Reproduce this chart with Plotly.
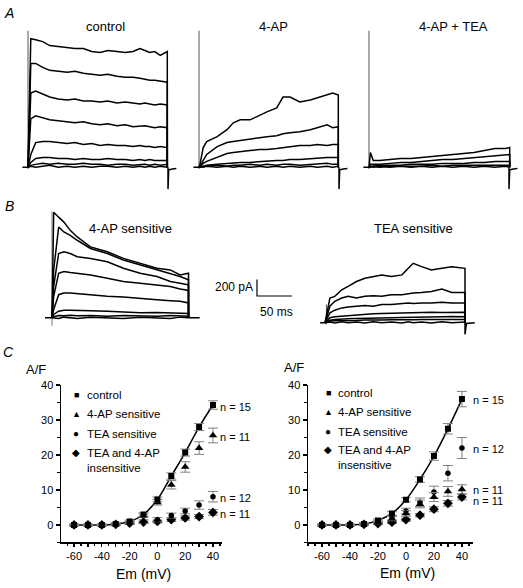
import plotly.graph_objects as go

# ---------------- DATA ----------------
# Panel A: current traces (time in ms, current in pA)
ctl_t = [0, 4, 11, 21, 31, 43, 56, 67, 79, 91, 103, 114, 127, 139, 150, 160, 167, 174, 181, 189, 199]
ctl_1 = [0, 1560, 1548, 1524, 1476, 1464, 1452, 1440, 1440, 1404, 1392, 1416, 1404, 1392, 1404, 1440, 1416, 1392, 1404, 1356, 1404]
ctl_2 = [0, 1260, 1260, 1212, 1176, 1164, 1152, 1164, 1140, 1128, 1116, 1128, 1104, 1092, 1092, 1080, 1068, 1056, 1056, 1044, 1032]
ctl_3 = [0, 900, 924, 888, 852, 828, 816, 828, 804, 804, 792, 804, 780, 792, 780, 768, 780, 768, 756, 768, 756]
ctl_4 = [0, 588, 624, 600, 576, 564, 552, 540, 552, 528, 516, 528, 504, 516, 492, 504, 504, 492, 480, 492, 480]
ctl_5 = [0, 156, 300, 312, 312, 300, 288, 300, 276, 288, 264, 276, 264, 264, 252, 264, 252, 252, 240, 252, 240]
ctl_6 = [0, 60, 108, 120, 120, 108, 108, 96, 108, 96, 96, 108, 96, 96, 84, 96, 84, 96, 84, 84, 84]
ctl_7 = [0, 24, 36, 48, 36, 48, 36, 36, 48, 36, 36, 24, 36, 36, 24, 36, 36, 24, 36, 24, 36]
ctl_8 = [0, 12, 0, 12, 24, 0, 12, 0, 12, 0, 12, 12, 0, 12, 0, 12, 0, 12, 0, 12, 0]

ap_t = [0, 1.4, 6, 11, 26, 40, 49, 59, 73, 87, 97, 111, 120, 130, 144, 159, 169, 183, 191, 199]
ap_1 = [0, 36, 240, 312, 372, 456, 540, 576, 576, 636, 672, 720, 852, 852, 792, 816, 840, 876, 900, 876]
ap_2 = [0, 12, 84, 156, 252, 300, 312, 324, 348, 360, 372, 384, 408, 420, 432, 456, 480, 516, 480, 492]
ap_3 = [0, 12, 48, 72, 120, 168, 180, 192, 204, 216, 216, 228, 240, 252, 264, 264, 276, 264, 276, 276]
ap_4 = [0, 0, 12, 24, 36, 48, 48, 60, 60, 72, 72, 84, 84, 96, 96, 108, 108, 120, 120, 120]
ap_5 = [0, 0, 12, 12, 24, 12, 24, 24, 36, 24, 36, 24, 36, 36, 24, 36, 36, 48, 36, 36]
ap_6 = [0, 12, 0, 12, 0, 12, 0, 12, 0, 12, 0, 12, 0, 12, 0, 12, 0, 12, 0, 12]

tea_t = [0, 2, 6, 15, 30, 45, 60, 75, 90, 105, 120, 135, 150, 165, 180, 195, 201]
tea_1 = [0, 180, 84, 84, 96, 108, 108, 120, 132, 144, 156, 168, 180, 204, 228, 228, 240]
tea_2 = [0, 36, 36, 36, 48, 60, 60, 72, 84, 96, 96, 108, 120, 132, 144, 156, 156]
tea_3 = [0, 12, 12, 24, 24, 24, 36, 36, 36, 48, 48, 48, 60, 60, 72, 72, 72]
tea_4 = [0, 0, 12, 0, 12, 12, 12, 12, 24, 12, 24, 24, 24, 24, 24, 24, 24]
tea_5 = [0, 12, 0, 12, 0, 12, 0, 12, 0, 12, 0, 12, 0, 12, 0, 12, 0]

# holding baseline + tail currents (pre-pulse, None gap, post-pulse)
a_base_t = [-8, 0, None, 200, 200, 201, 206, 212]
a_base_i = [0, 0, None, 0, -264, -30, -20, -15]
a_cap_t = [0, 0]
a_cap_i = [-20, 1656]

# Panel B: difference currents
bl_t = [0, 2.4, 9.5, 17, 26, 36, 55, 79, 102, 126, 150, 169, 183, 195]
bl_1 = [0, 1280, 1220, 1160, 1060, 980, 860, 800, 720, 660, 600, 580, 520, 540]
bl_2 = [0, 580, 1100, 1040, 1000, 940, 840, 780, 700, 640, 580, 540, 500, 460]
bl_3 = [0, 380, 780, 800, 780, 740, 720, 680, 600, 540, 500, 440, 420, 400]
bl_4 = [0, 260, 540, 560, 548, 540, 520, 480, 440, 420, 400, 380, 348, 332]
bl_5 = [0, 100, 280, 300, 300, 292, 280, 260, 252, 240, 220, 208, 200, 180]
bl_6 = [0, 40, 80, 92, 92, 88, 84, 80, 72, 60, 64, 56, 52, 52]
bl_7 = [0, 12, 28, 24, 32, 24, 28, 20, 28, 24, 20, 28, 24, 20]
bl_8 = [0, 0, -8, 8, 0, -8, 8, 0, -8, 8, 0, -8, 8, 0]
bl_base_t = [-10, 0, None, 195, 211]
bl_base_i = [0, 0, None, 0, 0]
bl_cap_t = [0, 0]
bl_cap_i = [-96, 1290]

br_t = [0, 7, 14, 24, 33, 45, 57, 69, 81, 95, 110, 119, 126, 138, 152, 167, 181, 200]
br_1 = [0, 300, 320, 400, 440, 500, 540, 560, 580, 560, 580, 660, 720, 680, 640, 660, 680, 660]
br_2 = [0, 200, 260, 300, 320, 300, 320, 328, 320, 340, 340, 352, 360, 368, 380, 408, 368, 368]
br_3 = [0, 120, 152, 180, 192, 200, 208, 200, 220, 220, 232, 240, 232, 240, 240, 248, 240, 240]
br_4 = [0, 60, 72, 80, 88, 96, 100, 108, 112, 116, 120, 124, 120, 128, 128, 124, 128, 128]
br_5 = [0, 30, 40, 40, 48, 52, 52, 56, 60, 60, 64, 64, 68, 68, 72, 72, 76, 72]
br_6 = [0, 20, 24, 28, 24, 28, 32, 28, 32, 36, 32, 36, 36, 40, 36, 40, 40, 40]
br_7 = [0, 8, -4, 12, 0, 8, -4, 12, 0, 8, -4, 12, 0, 8, -4, 12, 0, 8]
br_base_t = [-7, 0, None, 200, 200, 202, 214]
br_base_i = [0, 0, None, 0, -140, -10, 0]
br_cap_t = [2, 2]
br_cap_i = [-20, 220]

# scale bar (ms, pA)
bar_t = [0, 0, 50]
bar_i = [200, 0, 0]

# Panel C: current density (A/F) vs Em (mV)
em = [-60, -50, -40, -30, -20, -10, 0, 10, 20, 30, 40]

L_control = [0, 0, 0, 0.3, 1.0, 3.0, 7.3, 14.0, 20.7, 28.0, 34.3]
L_control_err = [0.2, 0.2, 0.2, 0.3, 0.4, 0.5, 0.7, 0.9, 1.0, 1.0, 1.2]
L_ap = [0, 0, 0, 0.2, 0.7, 2.7, 6.5, 11.5, 16.6, 22.0, 25.6]
L_ap_err = [0.2, 0.2, 0.2, 0.3, 0.3, 0.4, 0.8, 1.2, 1.5, 1.8, 2.1]
L_tea = [0, 0, 0, 0.2, 0.6, 1.0, 1.5, 2.7, 4.0, 5.7, 8.1]
L_tea_err = [0.2, 0.2, 0.2, 0.3, 0.4, 0.5, 0.6, 0.7, 0.8, 1.2, 1.5]
L_ins = [0, 0, 0, 0.2, 0.5, 0.8, 1.0, 1.5, 2.0, 2.4, 3.6]
L_ins_err = [0.2, 0.2, 0.2, 0.2, 0.3, 0.3, 0.4, 0.5, 0.6, 0.6, 0.8]

R_control = [0, 0, 0, 0.3, 1.3, 3.3, 7.2, 13.0, 19.7, 27.5, 36.0]
R_control_err = [0.2, 0.2, 0.2, 0.3, 0.4, 0.5, 0.6, 0.8, 1.2, 1.5, 2.2]
R_ap = [0, 0, 0, 0.2, 0.7, 1.8, 3.3, 6.0, 8.0, 9.6, 10.2]
R_ap_err = [0.2, 0.2, 0.2, 0.3, 0.4, 0.6, 0.8, 1.1, 1.3, 1.4, 1.3]
R_tea = [0, 0, 0, 0.3, 1.0, 2.0, 4.0, 6.5, 9.4, 14.8, 22.0]
R_tea_err = [0.2, 0.2, 0.2, 0.3, 0.4, 0.6, 0.8, 1.2, 1.7, 2.2, 3.0]
R_ins = [0, 0, 0, 0.2, 0.4, 0.8, 1.5, 2.8, 4.5, 6.2, 8.0]
R_ins_err = [0.2, 0.2, 0.2, 0.2, 0.3, 0.4, 0.4, 0.5, 0.7, 0.8, 0.8]

series_names = ["control", "4-AP sensitive", "TEA sensitive", "TEA and 4-AP<br>insensitive"]
series_symbols = ["square", "triangle-up", "circle", "diamond"]
legend_glyphs = ["\u25A0", "\u25B2", "\u25CF", "\u25C6"]
left_n = ["n = 15", "n = 11", "n = 12", "n = 11"]
right_n = ["n = 15", "n = 12", "n = 11", "n = 11"]

x_ticks = [-60, -50, -40, -30, -20, -10, 0, 10, 20, 30, 40]
x_ticktext = ["-60", "", "-40", "", "-20", "", "0", "", "20", "", "40"]
y_ticks = [0, 10, 20, 30, 40]

# ---------------- LAYOUT HELPERS ----------------
W, H = 523, 588
SX = 0.7        # px per ms
SY = 1.0 / 12   # px per pA
FONT = "Liberation Sans, Arial, Helvetica, sans-serif"

fig = go.Figure()
layout = dict(width=W, height=H, margin=dict(l=0, r=0, t=0, b=0),
              paper_bgcolor="white", plot_bgcolor="rgba(0,0,0,0)",
              showlegend=False, font=dict(family=FONT, color="black"))


def axname(n, kind):
    return kind + ("" if n == 1 else str(n))


def trace_axes(n, x0, yb, left, right, top, bottom):
    layout[axname(n, "xaxis")] = dict(domain=[left / W, right / W],
                                      range=[(left - x0) / SX, (right - x0) / SX],
                                      visible=False, fixedrange=True,
                                      anchor=axname(n, "y"))
    layout[axname(n, "yaxis")] = dict(domain=[1 - bottom / H, 1 - top / H],
                                      range=[(yb - bottom) / SY, (yb - top) / SY],
                                      visible=False, fixedrange=True,
                                      anchor=axname(n, "x"))


def add_lines(n, t, ys, color="black", width=1.5, close_to_zero=True):
    for y in ys:
        xx, yy = list(t), list(y)
        if close_to_zero:
            xx = xx + [t[-1]]
            yy = yy + [0]
        fig.add_trace(go.Scatter(x=xx, y=yy, mode="lines",
                                 line=dict(color=color, width=width),
                                 xaxis=axname(n, "x"), yaxis=axname(n, "y"),
                                 hoverinfo="skip", showlegend=False))


# Panel A
trace_axes(1, 28, 163, 14, 182, 18, 192)
trace_axes(2, 199, 163, 185, 352, 18, 192)
trace_axes(3, 369, 163, 355, 522, 18, 192)
# Panel B
trace_axes(4, 52, 315, 38, 205, 195, 335)
trace_axes(5, 325, 320, 312, 480, 235, 340)
trace_axes(6, 257, 293, 245, 305, 265, 300)

for n, t, group in [(1, ctl_t, [ctl_1, ctl_2, ctl_3, ctl_4, ctl_5, ctl_6, ctl_7, ctl_8]),
                    (2, ap_t, [ap_1, ap_2, ap_3, ap_4, ap_5, ap_6]),
                    (3, tea_t, [tea_1, tea_2, tea_3, tea_4, tea_5])]:
    add_lines(n, a_cap_t, [a_cap_i], color="#555555", width=1.0, close_to_zero=False)
    add_lines(n, t, group)
    add_lines(n, a_base_t, [a_base_i], close_to_zero=False)

add_lines(4, bl_cap_t, [bl_cap_i], color="#777777", width=1.0, close_to_zero=False)
add_lines(4, bl_t, [bl_1, bl_2, bl_3, bl_4, bl_5, bl_6, bl_7, bl_8])
add_lines(4, bl_base_t, [bl_base_i], close_to_zero=False)

add_lines(5, br_cap_t, [br_cap_i], color="#555555", width=1.0, close_to_zero=False)
add_lines(5, br_t, [br_1, br_2, br_3, br_4, br_5, br_6, br_7])
add_lines(5, br_base_t, [br_base_i], close_to_zero=False)

add_lines(6, bar_t, [bar_i], width=1.2, close_to_zero=False)

# Panel C axes
def iv_axes(n, left, right, xr):
    layout[axname(n, "xaxis")] = dict(
        domain=[left / W, right / W], range=xr, anchor=axname(n, "y"),
        showline=True, linecolor="black", linewidth=1.5, showgrid=False, zeroline=False,
        ticks="outside", ticklen=3, tickwidth=1.2, tickcolor="black",
        tickmode="array", tickvals=x_ticks, ticktext=x_ticktext,
        tickfont=dict(size=11, family=FONT), fixedrange=True,
        minor=dict(dtick=5, tick0=0, ticks="outside", ticklen=2, tickcolor="black", showgrid=False))
    layout[axname(n, "yaxis")] = dict(
        domain=[1 - 542 / H, 1 - 383 / H], range=[-5, 40], anchor=axname(n, "x"),
        showline=True, linecolor="black", linewidth=1.5, showgrid=False, zeroline=False,
        ticks="outside", ticklen=4, tickwidth=1.2, tickcolor="black",
        tickmode="array", tickvals=y_ticks,
        tickfont=dict(size=11, family=FONT), fixedrange=True,
        minor=dict(dtick=5, tick0=0, ticks="outside", ticklen=3, tickcolor="black", showgrid=False))


iv_axes(7, 61, 222, [-69.4, 46.5])
iv_axes(8, 308, 473, [-70, 47.9])

marker_sizes = [6, 7.5, 5.5, 7.5]
for n, vals, errs in [(7, [L_control, L_ap, L_tea, L_ins], [L_control_err, L_ap_err, L_tea_err, L_ins_err]),
                      (8, [R_control, R_ap, R_tea, R_ins], [R_control_err, R_ap_err, R_tea_err, R_ins_err])]:
    # fitted curve through control
    fig.add_trace(go.Scatter(x=em, y=vals[0], mode="lines", line=dict(color="black", width=1.5, shape="spline", smoothing=1.0),
                             xaxis=axname(n, "x"), yaxis=axname(n, "y"), hoverinfo="skip", showlegend=False))
    for k in [3, 2, 1, 0]:
        fig.add_trace(go.Scatter(
            x=em, y=vals[k], mode="markers",
            marker=dict(symbol=series_symbols[k], size=marker_sizes[k], color="black", line=dict(width=0)),
            error_y=dict(type="data", array=errs[k], color="#808080", thickness=1, width=5),
            xaxis=axname(n, "x"), yaxis=axname(n, "y"), name=series_names[k], showlegend=False))

# ---------------- TEXT ----------------
ann = []


def text(s, x, y, size=12, xanchor="center", align="center", italic=False):
    ann.append(dict(text=("<i>%s</i>" % s) if italic else s, x=x / W, y=1 - y / H,
                    xref="paper", yref="paper", showarrow=False,
                    xanchor=xanchor, yanchor="middle", align=align,
                    font=dict(size=size, family=FONT, color="black")))


text("A", 9, 7, size=14, italic=True)
text("B", 9, 202, size=14, italic=True)
text("C", 8, 350, size=14, italic=True)

text("control", 105, 21, size=13)
text("4-AP", 273, 21, size=13)
text("4-AP + TEA", 453, 21, size=13)
text("4-AP sensitive", 130, 225, size=13)
text("TEA sensitive", 413, 225, size=13)

text("200 pA", 255, 284, size=12, xanchor="right")
text("50 ms", 276, 309, size=12)

text("A/F", 36, 367, size=13)
text("A/F", 294, 365, size=13)
text("Em (mV)", 143, 574, size=14)
text("Em (mV)", 407, 573, size=14)

# legends
left_rows = [393, 412, 432, 459]
right_rows = [391, 410, 430, 456]
glyph_sizes = [9, 9, 10, 10]
for k in range(4):
    text(legend_glyphs[k], 76, left_rows[k] if k < 3 else 451, size=glyph_sizes[k])
    text(series_names[k], 85, left_rows[k], size=11.5, xanchor="left", align="left")
    text(legend_glyphs[k], 328, right_rows[k] if k < 3 else 448, size=glyph_sizes[k])
    text(series_names[k], 336, right_rows[k], size=11.5, xanchor="left", align="left")

# n labels
for lab, y in zip(left_n, [405, 435, 497, 513]):
    text(lab, 218, y, size=11, xanchor="left")
for lab, y in zip(right_n, [398, 448, 489, 500]):
    text(lab, 471, y, size=11, xanchor="left")

layout["annotations"] = ann
fig.update_layout(**layout)
fig.write_html("out.html", config={"displayModeBar": False, "staticPlot": True},
               post_script="document.body.style.margin='0px';document.body.style.overflow='hidden';")
